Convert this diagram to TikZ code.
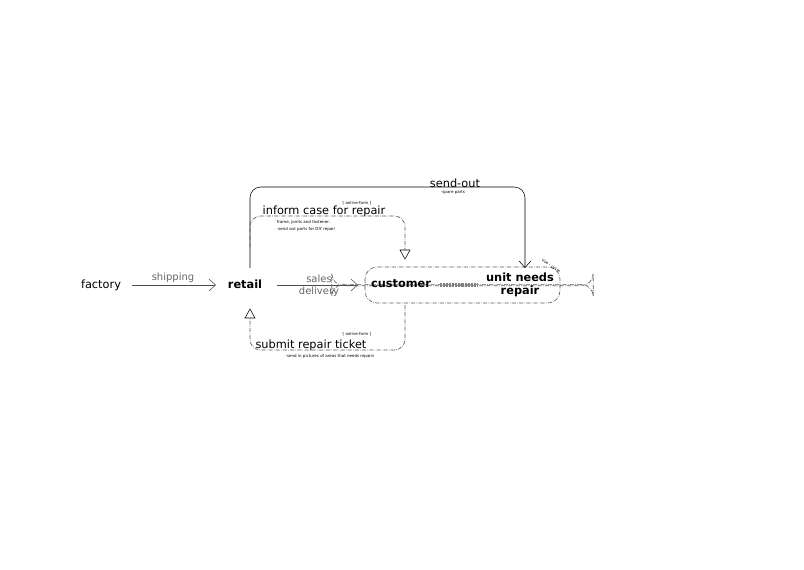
\documentclass[tikz,border=0pt]{standalone}
\usepackage{fontspec}
\setmainfont{DejaVu Sans}
\usetikzlibrary{arrows.meta}
\begin{document}
\begin{tikzpicture}[x=0.75pt,y=-0.75pt,
  lbl/.style={font=\fontsize{7.5}{8}\selectfont, text=gray!80!black, inner sep=1pt},
  big/.style={font=\fontsize{8.5}{9}\selectfont, inner sep=1pt},
  tiny/.style={font=\fontsize{3}{3.5}\selectfont, inner sep=0.5pt, align=left},
  bold/.style={font=\bfseries\fontsize{8.5}{10}\selectfont, inner sep=1pt, align=center},
  open/.style={-{Straight Barb[length=5pt,width=9pt]}, line width=0.4pt},
  dd/.style={densely dash dot, gray!70!black, line width=0.5pt},
  fill/.style={-{Triangle[length=6pt,width=6pt]}}]
\useasboundingbox (0,0) rectangle (804,569);
\node[big] (factory) at (101,285) {factory};
\node[bold] (retail) at (245,284) {retail};
\node[lbl] at (173,278) {shipping};
\coordinate (s1) at (132,285); \coordinate (s2) at (216,285);
\draw[open, gray!60!black] (s1) -- (s2);
\node[lbl] at (319,279) {sales};
\node[lbl] at (319,292) {delivery};
\coordinate (d1) at (277,285); \coordinate (d2) at (358,285);
\draw[open, gray!60!black] (d1) -- (d2);
\node[draw, dd, densely dash dot, rounded corners=9pt, minimum width=196pt*0.75/0.75, inner sep=0pt] (box) at (462.5,285) {};
\draw[dd, rounded corners=9pt] (365,267) rectangle (560,303);
\node[bold] (cust) at (401,284) {customer};
\draw[gray, line width=3pt, dash pattern=on 0.5pt off 0.6pt] (440,285) -- (478,285);
\node[bold] (unit) at (520,285) {unit needs\\repair};
\node[tiny, rotate=-35] at (551,266) {use - cycle};
% send-out
\coordinate (a0) at (250,268); \coordinate (a1) at (525,268);
\draw[open, rounded corners=8pt] (a0) -- (250,187) -- (525,187) -- (a1);
\node[big] at (455,183) {send-out};
\node[tiny] at (453,193) {-spare parts};
% inform
\coordinate (b0) at (250,247); \coordinate (b1) at (405,259);
\draw[dd, rounded corners=8pt] (b0) -- (250,216) -- (405,216) -- (405,250);
\draw[fill=black!80] (400,250) -- (410,250) -- (405,259) -- cycle;
\node[tiny] at (357,203) {[ online-form ]};
\node[big] at (324,211) {inform case for repair};
\node[tiny, anchor=west] at (276,222) {frame, joints and fastener:};
\node[tiny, anchor=west] at (276,229) {-send out parts for DIY repair};
% submit
\draw[dd, rounded corners=8pt] (405,305) -- (405,350) -- (250,350) -- (250,318);
\draw[fill=black!80] (245,318) -- (255,318) -- (250,309) -- cycle;
\node[tiny] at (357,334) {[ online-form ]};
\node[big] at (311,345) {submit repair ticket};
\node[tiny] at (330,356) {-send in pictures of areas that needs repairs};
\end{tikzpicture}
\end{document}
